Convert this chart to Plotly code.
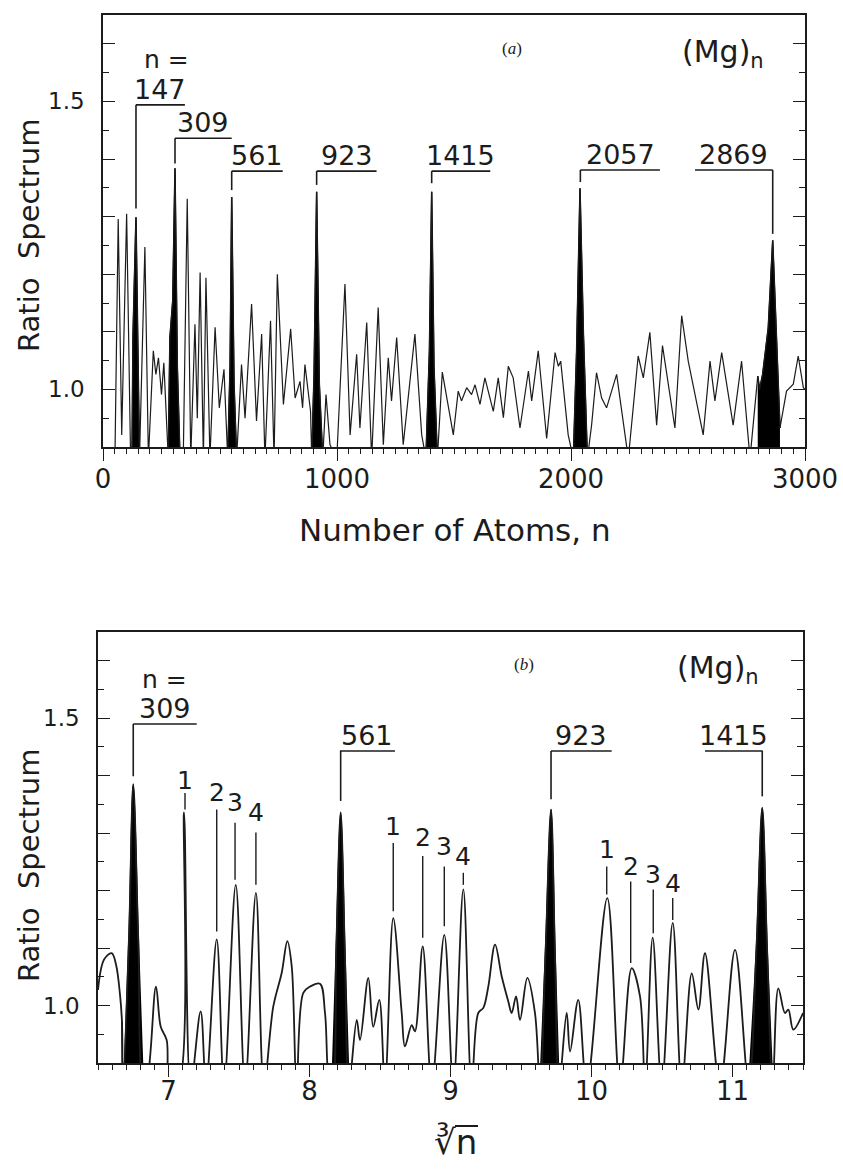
import plotly.graph_objects as go

# ---------------- data: panel (a) ----------------
top_n = [51, 65, 80, 101, 118, 124, 128, 141, 148, 156, 179, 194, 215, 226, 237, 250, 260, 271,
         279, 286, 298, 307.7, 317.7, 329, 343, 360, 375, 393, 403, 415, 429, 440, 457, 479, 497, 517,
         533, 543, 550, 560, 571, 592, 607, 635, 656, 678, 692, 716, 731, 745, 771, 802, 821, 842, 853,
         863, 887, 892, 902, 913, 924.5, 939, 953, 970, 999, 1034, 1056, 1084, 1098, 1127, 1148, 1176,
         1198, 1219, 1233, 1255, 1283, 1333, 1362, 1380, 1395, 1404.6, 1414.5, 1429, 1450, 1497, 1518,
         1532, 1554, 1575, 1590, 1611, 1632, 1668, 1689, 1711, 1732, 1753, 1782, 1818, 1832, 1860, 1896,
         1932, 1946, 1956, 1988, 2010, 2024, 2038.5, 2053, 2070, 2088, 2109, 2131, 2152, 2195, 2245,
         2287, 2309, 2337, 2366, 2391, 2444, 2473, 2501, 2565, 2594, 2615, 2644, 2693, 2729, 2765,
         2798, 2806, 2819, 2843, 2862, 2876, 2893, 2921, 2950, 2971, 2993, 3000]
top_ratio = [0.88, 1.296, 0.921, 1.305, 0.88, 0.88, 1.09, 1.299, 1.09, 0.88, 1.247, 0.88, 1.067, 1.026,
             1.055, 0.991, 1.046, 0.95,
             0.88, 1.09, 1.154, 1.384, 1.038, 0.88, 0.88, 1.331, 0.88, 1.113, 0.95, 1.203, 0.88, 1.194,
             0.88, 1.108, 0.968, 1.035,
             0.88, 1.038, 1.334, 1.009, 0.88, 1.043, 0.95, 1.148, 0.945, 1.096, 0.88, 1.119, 0.88, 1.20,
             0.974, 1.105, 0.985, 1.014, 0.968,
             1.043, 0.962, 0.88, 1.026, 1.343, 1.009, 0.88, 0.991, 0.904, 0.88, 1.183, 0.921, 1.061, 0.933,
             1.116, 0.88, 1.142,
             0.904, 1.055, 0.98, 1.09, 0.904, 1.096, 0.921, 0.88, 1.067, 1.343, 1.038, 0.88, 1.03, 0.921,
             0.997,
             0.98, 1.003, 0.991, 1.008, 0.974, 1.02, 0.962, 1.02, 0.951, 1.04, 1.02, 0.933, 1.032, 0.98,
             1.067, 0.915,
             1.064, 1.04, 1.049, 0.921, 0.88, 1.067, 1.349, 1.096, 0.88, 0.938, 1.029, 0.985, 0.968, 1.026,
             0.88,
             1.058, 1.02, 1.099, 0.938, 1.076, 0.933, 1.128, 1.049, 0.921, 1.049, 0.98, 1.064, 0.938, 1.049,
             0.88,
             1.023, 1.0, 1.026, 1.107, 1.259, 1.096, 0.933, 0.997, 1.009, 1.058, 1.003, 1.0]
top_fill_ranges = [(122, 158), (276, 332), (530, 574), (889, 941), (1377, 1431), (2006, 2073),
                   (2796, 2896)]
top_magic = ["147", "309", "561", "923", "1415", "2057", "2869"]
top_xticks = [0, 1000, 2000, 3000]

# ---------------- data: panel (b) ----------------
bot_cbrt = [6.50, 6.543, 6.597, 6.628, 6.656, 6.670, 6.677, 6.72, 6.750, 6.785, 6.821, 6.848, 6.911,
            6.945, 6.987, 7.011, 7.067, 7.110, 7.157, 7.228, 7.266, 7.342, 7.394, 7.477, 7.543, 7.620,
            7.677, 7.743, 7.803, 7.843, 7.874, 7.909, 7.956, 8.004, 8.074, 8.110, 8.145, 8.160, 8.19,
            8.221, 8.25, 8.280, 8.335, 8.358, 8.417, 8.452, 8.495, 8.535, 8.594, 8.654, 8.677, 8.725,
            8.748, 8.803, 8.867, 8.956, 9.020, 9.091, 9.150, 9.197, 9.233, 9.268, 9.316, 9.363, 9.410,
            9.434, 9.465, 9.493, 9.545, 9.599, 9.635, 9.675, 9.713, 9.74, 9.770, 9.824, 9.848, 9.906,
            9.966, 10.112, 10.202, 10.285, 10.344, 10.380, 10.434, 10.498, 10.576, 10.640, 10.711,
            10.758, 10.805, 10.911, 11.018, 11.115, 11.17, 11.211, 11.245, 11.285, 11.325, 11.372,
            11.396, 11.431, 11.50]
bot_ratio = [1.027, 1.080, 1.091, 1.071, 1.019, 0.972, 0.86, 1.12, 1.385, 1.12, 0.86, 0.87, 1.033,
             0.963, 0.940, 0.86, 0.86, 1.336, 0.86, 0.990, 0.86, 1.115, 0.86, 1.210, 0.86, 1.196,
             0.86, 0.998, 1.057, 1.112, 1.068, 0.86, 1.022, 1.033, 1.038, 0.987, 0.86, 0.86, 1.10,
             1.336, 1.10, 0.86, 0.975, 0.940, 1.048, 0.963, 1.010, 0.86, 1.152, 0.987, 0.929, 0.966,
             0.955, 1.103, 0.86, 1.123, 0.86, 1.202, 0.86, 0.987, 0.996, 1.033, 1.106, 1.051, 1.007,
             0.987, 1.016, 0.975, 1.048, 0.987, 0.86, 1.10, 1.341, 1.10, 0.86, 0.987, 0.92, 1.010,
             0.86, 1.187, 0.86, 1.065, 1.016, 0.86, 1.118, 0.86, 1.144, 0.86, 1.056,
             0.993, 1.091, 0.86, 1.097, 0.86, 1.10, 1.344, 1.10, 0.86, 1.030, 0.987,
             0.993, 0.958, 0.987]
bot_fill_ranges = [(6.67, 6.83), (8.15, 8.29), (9.63, 9.78), (11.11, 11.29)]
bot_magic = ["309", "561", "923", "1415"]
bot_xticks = [7, 8, 9, 10, 11]
sub_labels = ["1", "2", "3", "4"]

Y_RANGE = [0.9, 1.65]
W, H = 843, 1170
FONT = "DejaVu Sans"
INK = "#1c1c1c"

fig = go.Figure()


def add_panel(xs, ys, fills, xa, ya, width, shape):
    for lo, hi in fills:
        idx = [i for i, v in enumerate(xs) if lo <= v <= hi]
        fig.add_trace(go.Scatter(x=[xs[i] for i in idx], y=[ys[i] for i in idx], mode="lines",
                                 fill="tozeroy", fillcolor="black", line=dict(color="black", width=1.5, shape=shape),
                                 xaxis=xa, yaxis=ya, showlegend=False, hoverinfo="skip"))
    fig.add_trace(go.Scatter(x=xs, y=ys, mode="lines", line=dict(color=INK, width=width, shape=shape),
                             xaxis=xa, yaxis=ya, showlegend=False))


add_panel(top_n, top_ratio, top_fill_ranges, "x", "y", 1.2, "linear")
add_panel(bot_cbrt, bot_ratio, bot_fill_ranges, "x2", "y2", 1.8, "spline")

# ---------------- brackets & labels ----------------
top_brackets = [  # (vertical x, x0, x1, y horizontal, y end of vertical)
    (141, 141, 350, 1.494, 1.314),
    (307.7, 307.7, 550, 1.436, 1.392),
    (550, 550, 768, 1.379, 1.346),
    (913, 913, 1169, 1.379, 1.355),
    (1404.6, 1404.6, 1655, 1.379, 1.358),
    (2040, 2040, 2380, 1.381, 1.36),
    (2862, 2530, 2862, 1.381, 1.27),
]
bot_brackets = [
    (6.75, 6.75, 7.20, 1.49, 1.399),
    (8.221, 8.216, 8.606, 1.443, 1.356),
    (9.713, 9.713, 10.143, 1.443, 1.359),
    (11.211, 10.805, 11.214, 1.443, 1.364),
]
bot_subpeaks = [  # per group: (x, text y, line top, line bottom)
    [(7.117, 1.392, 1.37, 1.341), (7.342, 1.370, 1.341, 1.129), (7.472, 1.354, 1.318, 1.219),
     (7.620, 1.336, 1.301, 1.21)],
    [(8.594, 1.312, 1.283, 1.164), (8.803, 1.292, 1.26, 1.118), (8.956, 1.277, 1.242, 1.138),
     (9.091, 1.260, 1.231, 1.21)],
    [(10.108, 1.272, 1.242, 1.193), (10.278, 1.242, 1.216, 1.074), (10.438, 1.228, 1.202, 1.126),
     (10.576, 1.213, 1.187, 1.149)],
]

shapes = []
annotations = []
LW = 1.6


def bracket(xr, yr, spec, label, fs):
    xv, x0, x1, yh, yend = spec
    shapes.append(dict(type="line", xref=xr, yref=yr, x0=x0, x1=x1, y0=yh, y1=yh,
                       line=dict(color=INK, width=LW)))
    shapes.append(dict(type="line", xref=xr, yref=yr, x0=xv, x1=xv, y0=yh, y1=yend,
                       line=dict(color=INK, width=LW)))
    annotations.append(dict(xref=xr, yref=yr, x=(x0 + x1) / 2, y=yh, xanchor="center", yanchor="bottom",
                            yshift=-2, text=label, showarrow=False, font=dict(family=FONT, size=fs, color=INK)))


for spec, lab in zip(top_brackets, top_magic):
    bracket("x", "y", spec, lab, 27)
for spec, lab in zip(bot_brackets, bot_magic):
    bracket("x2", "y2", spec, lab, 27)

for group in bot_subpeaks:
    for (xv, ty, l0, l1), lab in zip(group, sub_labels):
        shapes.append(dict(type="line", xref="x2", yref="y2", x0=xv, x1=xv, y0=l0, y1=l1,
                           line=dict(color=INK, width=1.4)))
        annotations.append(dict(xref="x2", yref="y2", x=xv, y=ty, xanchor="center", yanchor="middle",
                                text=lab, showarrow=False, font=dict(family=FONT, size=25, color=INK)))

# "n =" labels
annotations.append(dict(xref="x", yref="y", x=165, y=1.573, xanchor="left", yanchor="middle", text="n =",
                        showarrow=False, font=dict(family=FONT, size=25, color=INK)))
annotations.append(dict(xref="x2", yref="y2", x=6.798, y=1.568, xanchor="left", yanchor="middle",
                        text="n =", showarrow=False, font=dict(family=FONT, size=25, color=INK)))
# panel tags
annotations.append(dict(xref="x", yref="y", x=1746, y=1.592, xanchor="center", yanchor="middle",
                        text="(<i>a</i>)", showarrow=False,
                        font=dict(family="Liberation Serif", size=17, color=INK)))
annotations.append(dict(xref="x2", yref="y2", x=9.52, y=1.594, xanchor="center", yanchor="middle",
                        text="(<i>b</i>)", showarrow=False,
                        font=dict(family="Liberation Serif", size=17, color=INK)))
annotations.append(dict(xref="x", yref="y", x=2466, y=1.583, xanchor="left", yanchor="middle",
                        text="(Mg)<sub>n</sub>", showarrow=False, font=dict(family=FONT, size=30, color=INK)))
annotations.append(dict(xref="x2", yref="y2", x=10.592, y=1.585, xanchor="left", yanchor="middle",
                        text="(Mg)<sub>n</sub>", showarrow=False, font=dict(family=FONT, size=30, color=INK)))
# axis titles
for yc in (236, 866):
    annotations.append(dict(xref="paper", yref="paper", x=29 / W, y=1 - yc / H, xanchor="center",
                            yanchor="middle", text="Ratio  Spectrum", textangle=-90, showarrow=False,
                            font=dict(family=FONT, size=29, color=INK)))
annotations.append(dict(xref="paper", yref="paper", x=455 / W, y=1 - 530 / H, xanchor="center",
                        yanchor="middle", text="Number of Atoms, n",
                        showarrow=False, font=dict(family=FONT, size=31, color=INK)))
annotations.append(dict(xref="paper", yref="paper", x=455 / W, y=1 - 1142 / H, xanchor="center",
                        yanchor="middle", text="∛n",
                        showarrow=False, font=dict(family=FONT, size=34, color=INK)))
# vinculum over the n of the cube-root title
shapes.append(dict(type="line", xref="paper", yref="paper", x0=455 / W, x1=478 / W,
                   y0=1 - 1126 / H, y1=1 - 1126 / H, line=dict(color=INK, width=2)))

yvals = [0.9, 1.0, 1.1, 1.2, 1.3, 1.4, 1.5, 1.6]
ytext = ["" if abs(v - 1.0) > 1e-9 and abs(v - 1.5) > 1e-9 else f"{v:.1f}" for v in yvals]
ymin = [0.95, 1.05, 1.15, 1.25, 1.35, 1.45, 1.55, 1.65]

axis_common = dict(showgrid=False, zeroline=False, showline=True, linecolor=INK, linewidth=1.6,
                   automargin=False, tickcolor=INK, tickfont=dict(family=FONT, size=26, color=INK))

yaxis_common = dict(axis_common, range=Y_RANGE, tickmode="array", tickvals=yvals, ticktext=ytext,
                    ticks="inside", ticklen=12, tickwidth=1.4, mirror="ticks", ticklabelstandoff=12,
                    tickfont=dict(family=FONT, size=23, color=INK),
                    minor=dict(tickmode="array", tickvals=ymin, ticks="inside", ticklen=6, tickcolor=INK,
                               tickwidth=1.2))

fig.update_layout(
    width=W, height=H, margin=dict(l=0, r=0, t=0, b=0, autoexpand=False),
    paper_bgcolor="white", plot_bgcolor="white", showlegend=False,
    xaxis=dict(axis_common, domain=[103 / W, 805 / W], anchor="y", range=[0, 3000], tickmode="array",
               tickvals=top_xticks, ticks="outside", ticklen=12, tickwidth=1.4, mirror=True,
               ticklabelstandoff=-4,
               minor=dict(dtick=50, tick0=0, ticks="outside", ticklen=5, tickcolor=INK, tickwidth=1.1)),
    yaxis=dict(yaxis_common, domain=[1 - 447 / H, 1 - 15 / H], anchor="x"),
    xaxis3=dict(overlaying="x", anchor="y", side="top", range=[0, 3000], showgrid=False, zeroline=False,
                automargin=False, showline=False, showticklabels=False, tickmode="array",
                tickvals=top_xticks, ticks="inside", ticklen=12, tickcolor=INK, tickwidth=1.4,
                minor=dict(dtick=50, tick0=0, ticks="inside", ticklen=5, tickcolor=INK, tickwidth=1.1)),
    xaxis2=dict(axis_common, domain=[98 / W, 803 / W], anchor="y2", range=[6.5, 11.5], tickmode="array",
                tickvals=bot_xticks, ticks="outside", ticklen=12, tickwidth=1.4, mirror=True,
                ticklabelstandoff=-8,
                minor=dict(dtick=0.1, tick0=6.5, ticks="outside", ticklen=5, tickcolor=INK, tickwidth=1.1)),
    yaxis2=dict(yaxis_common, domain=[1 - 1063 / H, 1 - 632 / H], anchor="x2"),
    xaxis4=dict(overlaying="x2", anchor="y2", side="top", range=[6.5, 11.5], showgrid=False,
                zeroline=False, automargin=False, showline=False, showticklabels=False, dtick=0.5,
                tick0=6.5, ticks="inside", ticklen=12, tickcolor=INK, tickwidth=1.4,
                minor=dict(dtick=0.1, tick0=6.5, ticks="inside", ticklen=5, tickcolor=INK, tickwidth=1.1)),
    shapes=shapes, annotations=annotations,
)

fig.write_html("out.html")
